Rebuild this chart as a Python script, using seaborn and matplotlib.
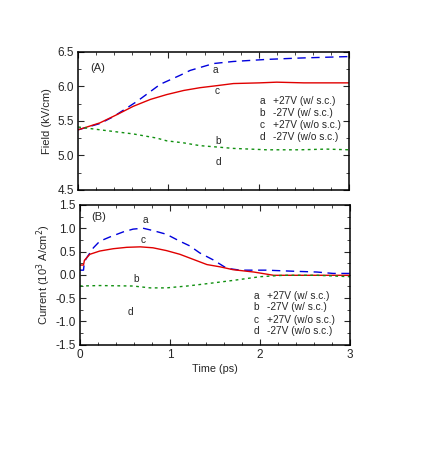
import numpy as np
import pandas as pd
import matplotlib
matplotlib.use("Agg")
import matplotlib.pyplot as plt
import seaborn as sns
from matplotlib.ticker import MultipleLocator

# ---- Data ----
# Panel A: Field (kV/cm)
tA = [0.0, 0.24, 0.39, 0.65, 0.91, 1.13, 1.24, 1.5, 1.72, 2.09, 2.46, 2.97, 3.0]
fieldA_a = [5.37, 5.46, 5.56, 5.78, 6.03, 6.16, 6.23, 6.33, 6.36, 6.39, 6.41, 6.43, 6.43]
tC = [0.0, 0.24, 0.43, 0.61, 0.8, 0.98, 1.17, 1.35, 1.54, 1.72, 2.01, 2.2, 2.5, 3.0]
fieldA_c = [5.37, 5.47, 5.59, 5.71, 5.81, 5.88, 5.94, 5.98, 6.01, 6.04, 6.05, 6.06, 6.05, 6.05]
tB = [0.0, 0.24, 0.61, 0.87, 0.98, 1.17, 1.35, 1.54, 1.72, 2.09, 2.46, 2.75, 3.0]
fieldA_b = [5.41, 5.37, 5.31, 5.25, 5.21, 5.18, 5.14, 5.12, 5.10, 5.08, 5.08, 5.09, 5.08]

# Panel B: Current (10^3 A/cm^2)
tBa = [0.0, 0.04, 0.05, 0.08, 0.15, 0.22, 0.33, 0.48, 0.59, 0.70, 0.81, 0.96, 1.11, 1.22, 1.33, 1.48, 1.63, 1.78, 2.07, 2.33, 2.63, 2.81, 3.0]
curr_a = [0.10, 0.10, 0.28, 0.38, 0.58, 0.72, 0.81, 0.92, 0.98, 1.00, 0.95, 0.87, 0.72, 0.62, 0.47, 0.32, 0.14, 0.10, 0.10, 0.08, 0.06, 0.03, 0.03]
tBc = [0.0, 0.04, 0.05, 0.11, 0.22, 0.37, 0.52, 0.67, 0.81, 0.96, 1.11, 1.26, 1.41, 1.56, 1.70, 1.93, 2.15, 2.44, 2.8, 3.0]
curr_c = [0.21, 0.21, 0.31, 0.44, 0.51, 0.56, 0.59, 0.60, 0.58, 0.52, 0.44, 0.33, 0.22, 0.17, 0.11, 0.06, -0.01, -0.01, -0.01, -0.01]
tBb = [0.0, 0.22, 0.59, 0.78, 0.96, 1.19, 1.41, 1.70, 2.0, 2.26, 2.63, 3.0]
curr_b = [-0.24, -0.23, -0.24, -0.28, -0.28, -0.24, -0.19, -0.12, -0.04, -0.01, -0.01, -0.04]

legend_keys = ["a", "b", "c", "d"]
legend_texts = ["+27V (w/ s.c.)", "-27V (w/ s.c.)", "+27V (w/o s.c.)", "-27V (w/o s.c.)"]

sns.set_style("ticks")
plt.rcParams['font.family'] = ['Liberation Sans', 'DejaVu Sans']
plt.rcParams['font.size'] = 8

fig = plt.figure(figsize=(4.25, 4.71), dpi=100)
axA = fig.add_axes([0.184, 0.597, 0.637, 0.293])
axB = fig.add_axes([0.188, 0.268, 0.636, 0.297])

blue = "#0000dd"
red = "#e00000"
green = "#109010"

dA = pd.DataFrame({"t": tA, "v": fieldA_a})
dC = pd.DataFrame({"t": tC, "v": fieldA_c})
dB = pd.DataFrame({"t": tB, "v": fieldA_b})
sns.lineplot(data=dA, x="t", y="v", ax=axA, color=blue, lw=1.0).lines[-1].set_dashes([6, 4])
sns.lineplot(data=dC, x="t", y="v", ax=axA, color=red, lw=1.0)
sns.lineplot(data=dB, x="t", y="v", ax=axA, color=green, lw=1.0).lines[-1].set_dashes([2, 2.5])

d2a = pd.DataFrame({"t": tBa, "v": curr_a})
d2c = pd.DataFrame({"t": tBc, "v": curr_c})
d2b = pd.DataFrame({"t": tBb, "v": curr_b})
sns.lineplot(data=d2a, x="t", y="v", ax=axB, color=blue, lw=1.0).lines[-1].set_dashes([6, 4])
sns.lineplot(data=d2c, x="t", y="v", ax=axB, color=red, lw=1.0)
sns.lineplot(data=d2b, x="t", y="v", ax=axB, color=green, lw=1.0).lines[-1].set_dashes([2, 2.5])

for ax in (axA, axB):
    ax.set_xlim(0, 3)
    ax.xaxis.set_major_locator(MultipleLocator(1))
    ax.xaxis.set_minor_locator(MultipleLocator(0.2))
    ax.tick_params(which="both", direction="in", top=True, right=True, labelsize=8.5, pad=3)
    ax.tick_params(which="major", length=4, width=0.8)
    ax.tick_params(which="minor", length=2, width=0.6)
    for s in ax.spines.values():
        s.set_linewidth(1.1)
        s.set_color("black")

axA.set_ylim(4.5, 6.5)
axA.yaxis.set_major_locator(MultipleLocator(0.5))
axA.yaxis.set_minor_locator(MultipleLocator(0.25))
axA.set_yticks([4.5, 5.0, 5.5, 6.0, 6.5])
axA.set_yticklabels(["4.5", "5.0", "5.5", "6.0", "6.5"])
axA.tick_params(axis="x", labelbottom=False)
axA.set_xlabel("")
axA.set_ylabel("Field (kV/cm)", fontsize=8, labelpad=4)

axB.set_ylim(-1.5, 1.5)
axB.yaxis.set_major_locator(MultipleLocator(0.5))
axB.yaxis.set_minor_locator(MultipleLocator(0.25))
axB.set_yticks([-1.5, -1.0, -0.5, 0.0, 0.5, 1.0, 1.5])
axB.set_yticklabels(["-1.5", "-1.0", "-0.5", "0.0", "0.5", "1.0", "1.5"])
axB.set_xticks([0, 1, 2, 3])
axB.set_xticklabels(["0", "1", "2", "3"])
axB.set_xlabel("Time (ps)", fontsize=7.8, labelpad=2)
axB.set_ylabel(r"Current (10$^3$ A/cm$^2$)", fontsize=8, labelpad=2)

fs = 7.3
# Panel A annotations
axA.text(0.22, 6.26, "(A)", fontsize=8, ha="center", va="center")
axA.text(1.52, 6.23, "a", fontsize=fs, ha="center", va="center")
axA.text(1.54, 5.93, "c", fontsize=fs, ha="center", va="center")
axA.text(1.55, 5.21, "b", fontsize=fs, ha="center", va="center")
axA.text(1.55, 4.90, "d", fontsize=fs, ha="center", va="center")
for k, t, y in zip(legend_keys, legend_texts, [5.79, 5.62, 5.44, 5.27]):
    axA.text(2.04, y, k, fontsize=fs, ha="center", va="center")
    axA.text(2.16, y, t, fontsize=fs, ha="left", va="center")

# Panel B annotations
axB.text(0.21, 1.24, "(B)", fontsize=8, ha="center", va="center")
axB.text(0.73, 1.17, "a", fontsize=fs, ha="center", va="center")
axB.text(0.70, 0.74, "c", fontsize=fs, ha="center", va="center")
axB.text(0.62, -0.08, "b", fontsize=fs, ha="center", va="center")
axB.text(0.56, -0.80, "d", fontsize=fs, ha="center", va="center")
for k, t, y in zip(legend_keys, legend_texts, [-0.45, -0.70, -0.96, -1.21]):
    axB.text(1.96, y, k, fontsize=fs, ha="center", va="center")
    axB.text(2.08, y, t, fontsize=fs, ha="left", va="center")

fig.savefig("out.png", dpi=100)
